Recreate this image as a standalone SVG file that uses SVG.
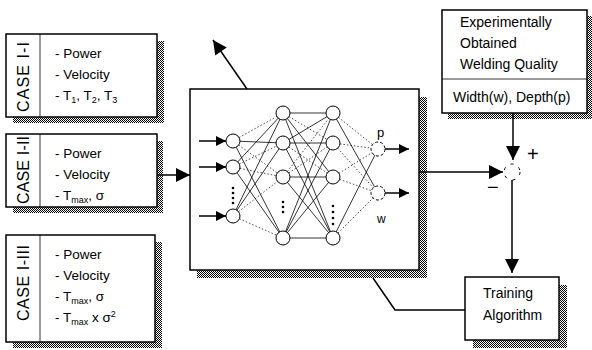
<svg xmlns="http://www.w3.org/2000/svg" width="592" height="350" viewBox="0 0 592 350">
<defs>
<pattern id="chk" width="2" height="2" patternUnits="userSpaceOnUse">
<rect width="2" height="2" fill="#fff"/>
<rect width="1" height="1" fill="#000"/>
<rect x="1" y="1" width="1" height="1" fill="#000"/>
</pattern>
<marker id="ah" viewBox="0 0 10 10" refX="10" refY="5" markerWidth="10" markerHeight="10" markerUnits="userSpaceOnUse" orient="auto">
<path d="M0,0 L10,5 L0,10 Z" fill="#000"/>
</marker>
<marker id="ahb" viewBox="0 0 10 10" refX="10" refY="5" markerWidth="16" markerHeight="14" markerUnits="userSpaceOnUse" orient="auto">
<path d="M0,0 L10,5 L0,10 Z" fill="#000"/>
</marker>
</defs>
<style>
text{font-family:"Liberation Sans",Arial,sans-serif;fill:#000}
.t{font-size:13.5px}
.b{font-size:14px}
.v{font-size:16px}
.sub{font-size:9px}
.box{fill:#fff;stroke:#000;stroke-width:1.5}
.sh{fill:url(#chk)}
.ln{fill:none;stroke:#000;stroke-width:1.5}
.nn{fill:none;stroke:#000;stroke-width:0.8}
.nd{fill:none;stroke:#000;stroke-width:0.7;stroke-dasharray:1.5 2}
.node{fill:#fff;stroke:#000;stroke-width:1}
</style>

<g id="case1">
<rect class="sh" x="13" y="41" width="151" height="82"/>
<rect class="box" x="6" y="34" width="151" height="83"/>
<line class="nn" x1="40" y1="34" x2="40" y2="117"/>
<text class="v" transform="translate(29,112) rotate(-90)" textLength="70" lengthAdjust="spacing">CASE I-I</text>
<text class="t" x="55" y="58">- Power</text>
<text class="t" x="55" y="79">- Velocity</text>
<text class="t" x="55" y="100">- T<tspan class="sub" dy="3">1</tspan><tspan dy="-3">, T</tspan><tspan class="sub" dy="3">2</tspan><tspan dy="-3">, T</tspan><tspan class="sub" dy="3">3</tspan></text>
</g>

<g id="case2">
<rect class="sh" x="13" y="141" width="150" height="72"/>
<rect class="box" x="6" y="134" width="151" height="73"/>
<line class="nn" x1="40" y1="134" x2="40" y2="207"/>
<text class="v" transform="translate(29,204) rotate(-90)" textLength="68" lengthAdjust="spacing">CASE I-II</text>
<text class="t" x="55" y="158">- Power</text>
<text class="t" x="55" y="179">- Velocity</text>
<text class="t" x="55" y="200">- T<tspan class="sub" dy="3">max</tspan><tspan dy="-3">, σ</tspan></text>
</g>

<g id="case3">
<rect class="sh" x="13" y="242" width="149" height="106"/>
<rect class="box" x="6" y="235" width="149" height="107"/>
<line class="nn" x1="40" y1="235" x2="40" y2="342"/>
<text class="v" transform="translate(29,321) rotate(-90)" textLength="76" lengthAdjust="spacing">CASE I-III</text>
<text class="t" x="55" y="259">- Power</text>
<text class="t" x="55" y="280">- Velocity</text>
<text class="t" x="55" y="301">- T<tspan class="sub" dy="3">max</tspan><tspan dy="-3">, σ</tspan></text>
<text class="t" x="55" y="322">- T<tspan class="sub" dy="3">max</tspan><tspan dy="-3"> x σ</tspan><tspan class="sub" dy="-5">2</tspan></text>
</g>

<g id="nnet">
<rect class="sh" x="197" y="97" width="230" height="181"/>
<rect class="box" x="190" y="89" width="229" height="181"/>
<g>
<line class="nn" x1="233" y1="141" x2="283" y2="143" stroke-width="1.4"/>
<line class="nn" x1="233" y1="141" x2="283" y2="238"/>
<line class="nd" x1="233" y1="141" x2="283" y2="113"/>
<line class="nd" x1="233" y1="141" x2="283" y2="177"/>
<line class="nn" x1="233" y1="167" x2="283" y2="238"/>
<line class="nn" x1="233" y1="167" x2="283" y2="113"/>
<line class="nd" x1="233" y1="167" x2="283" y2="143"/>
<line class="nd" x1="233" y1="167" x2="283" y2="177"/>
<line class="nn" x1="233" y1="216" x2="283" y2="113"/>
<line class="nn" x1="233" y1="216" x2="283" y2="143"/>
<line class="nd" x1="233" y1="216" x2="283" y2="177"/>
<line class="nd" x1="233" y1="216" x2="283" y2="238"/>
</g>
<g>
<line class="nn" x1="283" y1="113" x2="333" y2="113"/>
<line class="nn" x1="283" y1="143" x2="333" y2="143" stroke-width="1.4"/>
<line class="nn" x1="283" y1="177" x2="333" y2="177" stroke-width="1.2"/>
<line class="nn" x1="283" y1="238" x2="333" y2="238"/>
<line class="nn" x1="283" y1="113" x2="333" y2="177"/>
<line class="nn" x1="283" y1="113" x2="333" y2="238"/>
<line class="nd" x1="283" y1="113" x2="333" y2="143"/>
<line class="nn" x1="283" y1="143" x2="333" y2="238"/>
<line class="nn" x1="283" y1="143" x2="333" y2="113"/>
<line class="nd" x1="283" y1="143" x2="333" y2="177"/>
<line class="nn" x1="283" y1="177" x2="333" y2="238"/>
<line class="nd" x1="283" y1="177" x2="333" y2="113"/>
<line class="nd" x1="283" y1="177" x2="333" y2="143"/>
<line class="nn" x1="283" y1="238" x2="333" y2="113"/>
<line class="nn" x1="283" y1="238" x2="333" y2="143"/>
<line class="nn" x1="283" y1="238" x2="333" y2="177"/>
</g>
<g>
<line class="nd" x1="333" y1="113" x2="378" y2="149"/>
<line class="nn" x1="333" y1="113" x2="378" y2="193"/>
<line class="nd" x1="333" y1="143" x2="378" y2="149"/>
<line class="nd" x1="333" y1="143" x2="378" y2="193"/>
<line class="nd" x1="333" y1="177" x2="378" y2="149"/>
<line class="nd" x1="333" y1="177" x2="378" y2="193"/>
<line class="nn" x1="333" y1="238" x2="378" y2="149"/>
<line class="nd" x1="333" y1="238" x2="378" y2="193"/>
</g>
<circle class="node" cx="233" cy="141" r="7"/>
<circle class="node" cx="233" cy="167" r="7"/>
<circle class="node" cx="233" cy="216" r="7"/>
<circle class="node" cx="283" cy="113" r="7"/>
<circle class="node" cx="283" cy="143" r="7"/>
<circle class="node" cx="283" cy="177" r="7"/>
<circle class="node" cx="283" cy="238" r="7"/>
<circle class="node" cx="333" cy="113" r="7"/>
<circle class="node" cx="333" cy="143" r="7"/>
<circle class="node" cx="333" cy="177" r="7"/>
<circle class="node" cx="333" cy="238" r="7"/>
<circle class="node" cx="378" cy="149" r="7" stroke-dasharray="3 2"/>
<circle class="node" cx="378" cy="193" r="7" stroke-dasharray="3 2"/>
<g fill="#000">
<circle cx="233" cy="188" r="1.3"/><circle cx="233" cy="193" r="1.3"/><circle cx="233" cy="198" r="1.3"/><circle cx="233" cy="203" r="1.3"/>
<circle cx="283" cy="202" r="1.3"/><circle cx="283" cy="207" r="1.3"/><circle cx="283" cy="212" r="1.3"/>
<circle cx="333" cy="206" r="1.3"/><circle cx="333" cy="212" r="1.3"/><circle cx="333" cy="218" r="1.3"/><circle cx="333" cy="224" r="1.3"/>
</g>
<line class="ln" x1="199" y1="141" x2="226" y2="141" marker-end="url(#ah)"/>
<line class="ln" x1="199" y1="167" x2="226" y2="167" marker-end="url(#ah)"/>
<line class="ln" x1="199" y1="216" x2="226" y2="216" marker-end="url(#ah)"/>
<line class="ln" x1="385" y1="149" x2="409" y2="149" marker-end="url(#ah)"/>
<line class="ln" x1="385" y1="193" x2="409" y2="193" marker-end="url(#ah)"/>
<text x="377" y="137" style="font-size:13px">p</text>
<text x="377" y="223" style="font-size:12px">w</text>
</g>

<g id="expbox">
<rect class="sh" x="448" y="16" width="144" height="103"/>
<rect class="box" x="442" y="10" width="145" height="103"/>
<line class="nn" x1="442" y1="79" x2="587" y2="79"/>
<text class="b" x="460" y="27">Experimentally</text>
<text class="b" x="460" y="48">Obtained</text>
<text class="b" x="460" y="69">Welding Quality</text>
<text class="b" x="453" y="102">Width(w), Depth(p)</text>
</g>

<g id="junction">
<circle cx="512" cy="172" r="8" fill="none" stroke="#000" stroke-width="1" stroke-dasharray="3 6"/>
<text x="527" y="161" style="font-size:20px">+</text>
<text x="487" y="194" style="font-size:20px">−</text>
</g>

<g id="training">
<rect class="sh" x="473" y="285" width="94" height="63"/>
<rect class="box" x="465" y="277" width="94" height="63"/>
<text class="b" x="483" y="298">Training</text>
<text class="b" x="483" y="320">Algorithm</text>
</g>

<g id="connectors">
<line class="ln" x1="157" y1="175" x2="190" y2="175" marker-end="url(#ahb)"/>
<line class="ln" x1="247" y1="89" x2="213" y2="40" marker-end="url(#ahb)"/>
<line class="ln" x1="419" y1="172" x2="503" y2="172" marker-end="url(#ahb)"/>
<line class="ln" x1="513" y1="113" x2="513" y2="160" marker-end="url(#ahb)"/>
<line class="ln" x1="512" y1="180" x2="512" y2="273" marker-end="url(#ahb)"/>
<polyline class="ln" points="465,310 395,310 373,278"/>
</g>
</svg>
